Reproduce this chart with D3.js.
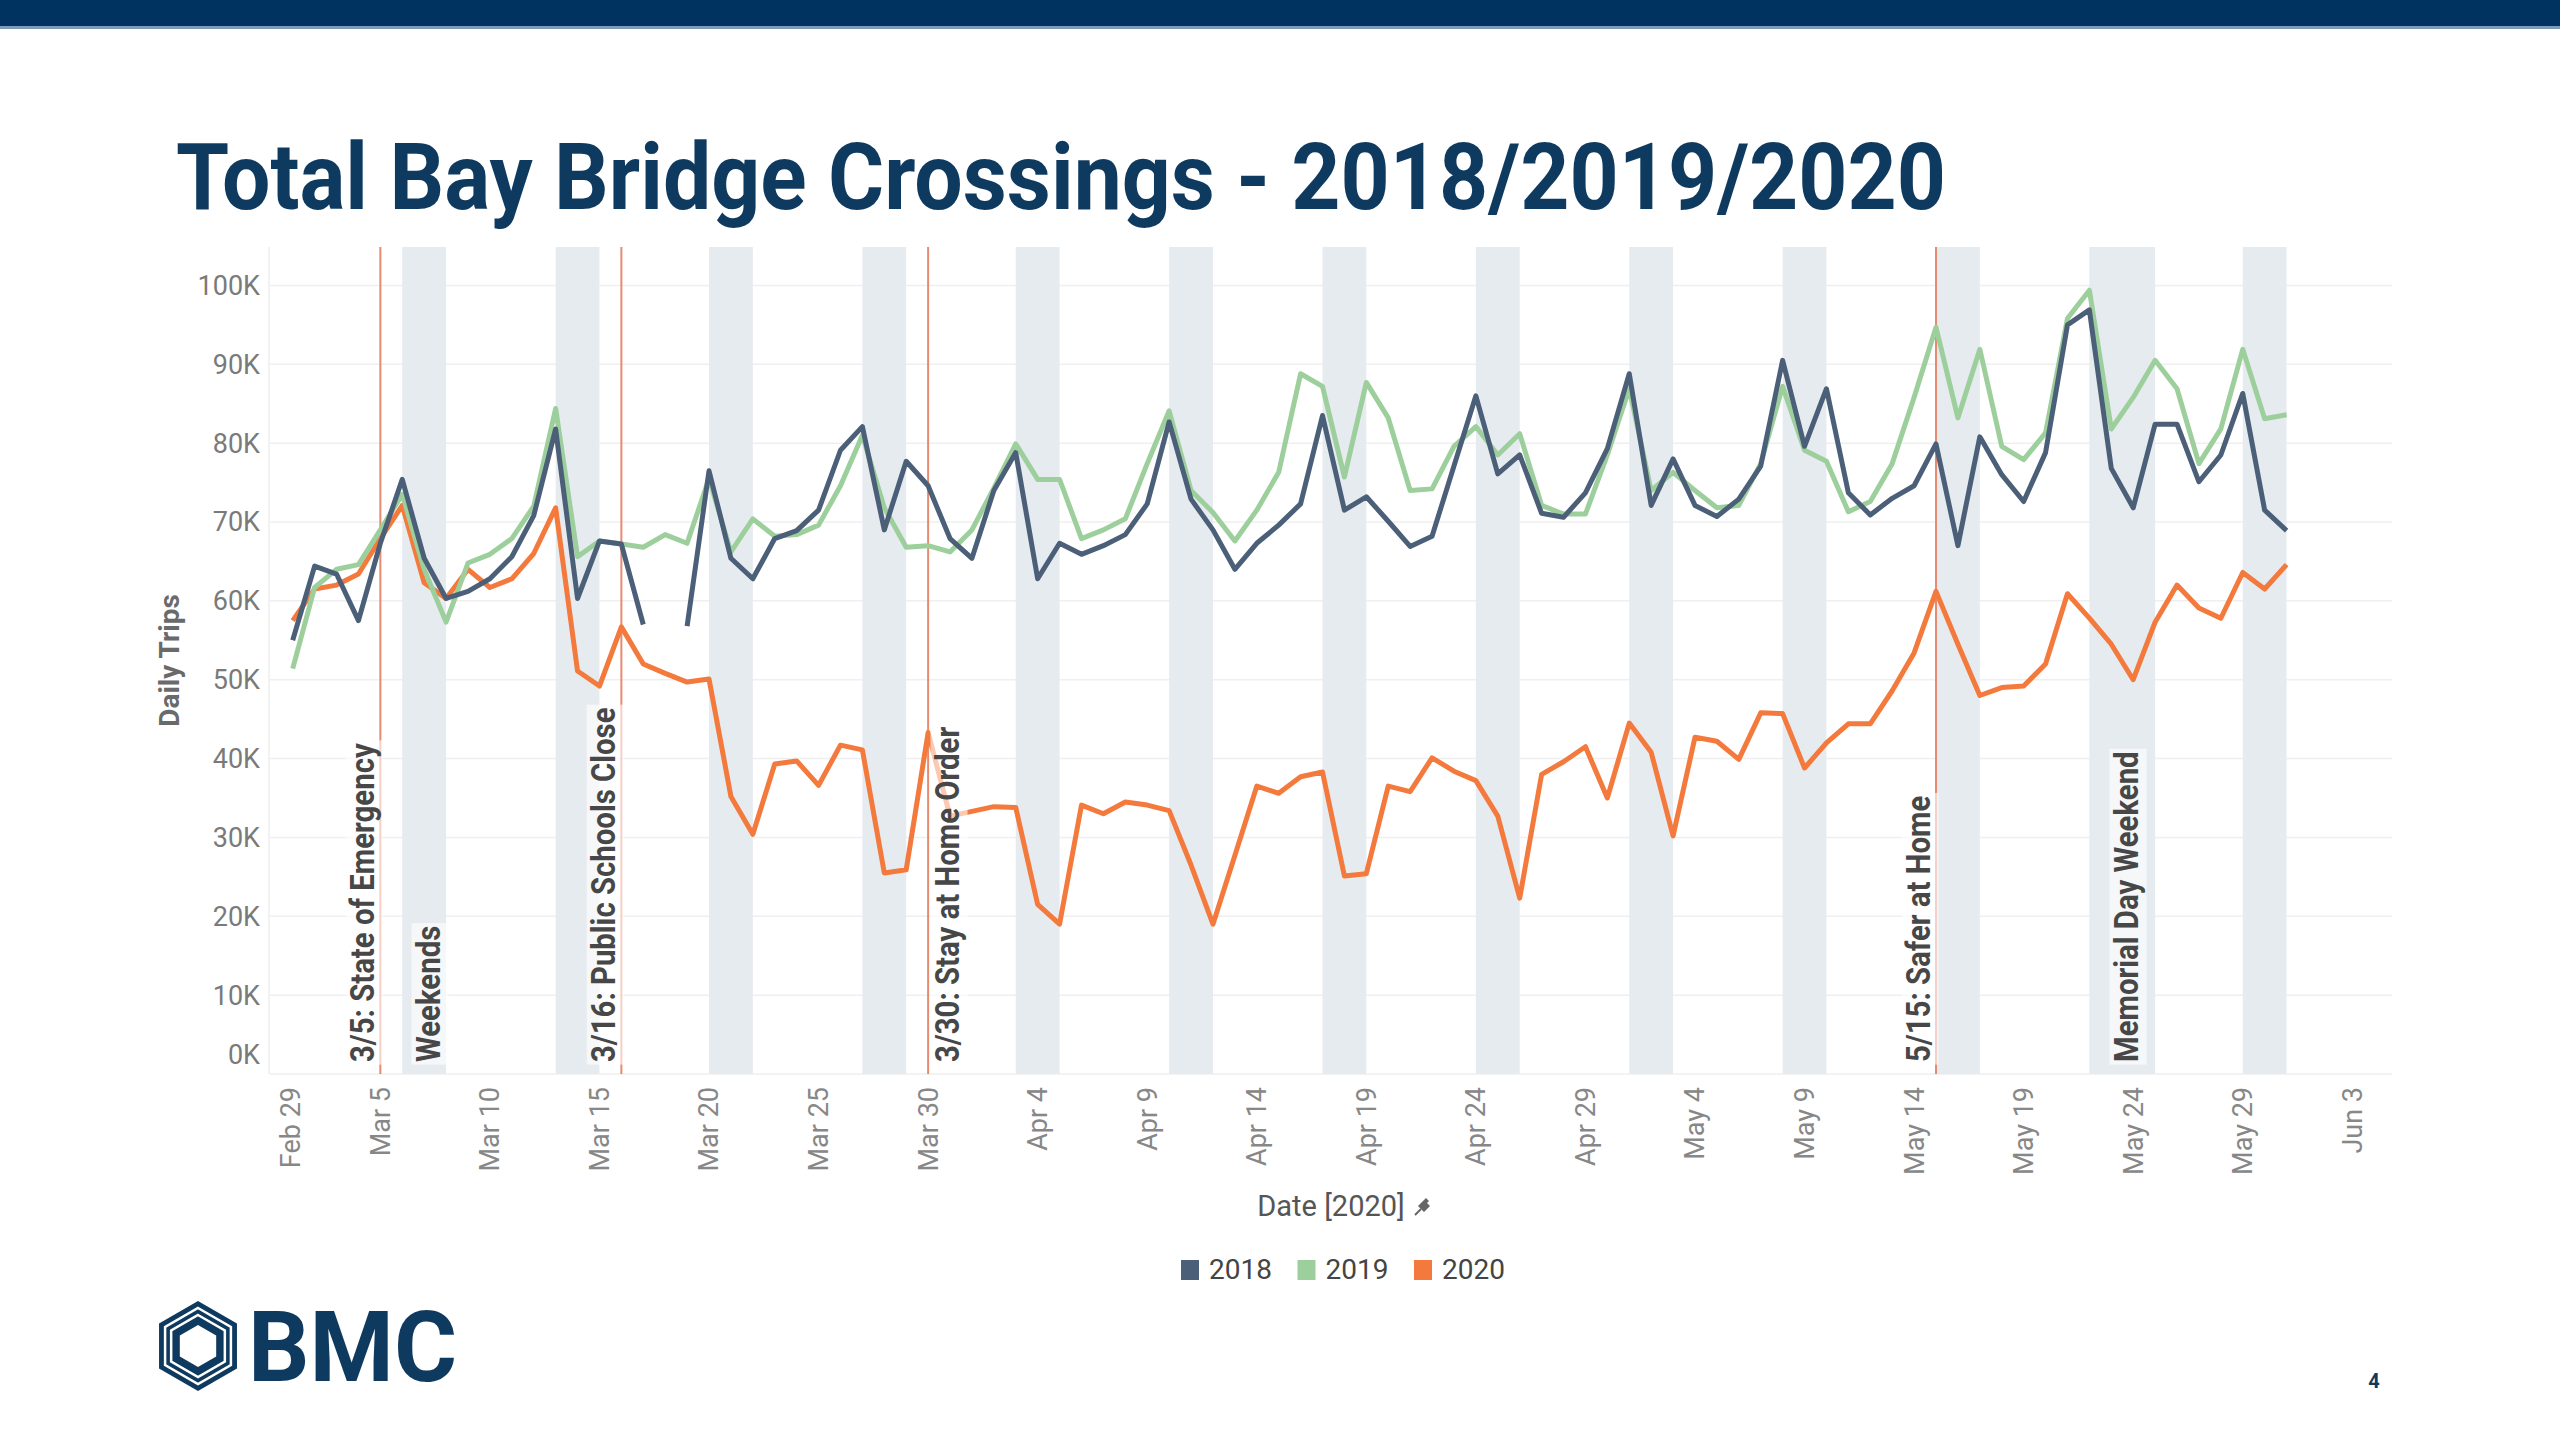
<!DOCTYPE html>
<html>
<head>
<meta charset="utf-8">
<script src="https://d3js.org/d3.v7.min.js"></script>
<style>
  body { margin: 0; background: #fff; }
  text { font-family: Roboto, "Liberation Sans", sans-serif; }
</style>
</head>
<body>
<div id="chart"></div>
<script>
// daily totals in thousands, Mar 1 .. May 31 (aligned to 2020 dates)
var trips2018 = [55.0,64.4,63.4,57.5,67.3,75.4,65.4,60.3,61.2,62.8,65.6,70.8,81.8,60.3,67.6,67.2,57.0,null,56.8,76.5,
  65.4,62.8,67.9,68.9,71.5,79.1,82.1,69.0,77.7,74.6,67.9,65.4,74.0,78.8,62.8,67.3,65.9,67.0,68.4,72.3,
  82.7,72.9,69.0,64.0,67.3,69.6,72.3,83.5,71.5,73.2,70.1,66.9,68.2,77.1,86.0,76.1,78.5,71.1,70.6,73.7,
  79.3,88.8,72.1,78.0,72.1,70.7,72.9,77.1,90.5,79.6,86.9,73.7,70.9,73.0,74.6,79.9,67.0,80.8,76.0,72.6,
  78.8,95.0,96.9,76.8,71.8,82.4,82.4,75.1,78.5,86.3,71.5,68.9];
var trips2019 = [51.4,61.7,64.0,64.6,69.0,73.5,64.0,57.3,64.8,65.9,67.9,72.0,84.4,65.6,67.6,67.2,66.8,68.4,67.3,75.5,
  66.2,70.4,68.2,68.4,69.6,74.6,81.0,71.8,66.8,67.0,66.2,69.0,74.3,79.9,75.4,75.4,67.9,69.0,70.4,77.4,
  84.1,74.0,71.2,67.6,71.5,76.3,88.8,87.2,75.7,87.7,83.2,74.0,74.2,79.6,82.1,78.5,81.2,72.1,71.0,71.0,
  78.5,86.9,74.0,76.3,74.0,71.8,72.1,77.4,87.2,79.1,77.7,71.3,72.6,77.4,85.8,94.7,83.2,91.9,79.6,77.9,
  81.3,95.8,99.4,81.8,85.8,90.5,86.9,77.4,81.8,91.9,83.1,83.6];
var trips2020 = [57.5,61.5,62.0,63.4,67.9,72.1,62.3,60.3,64.0,61.7,62.8,66.0,71.8,51.1,49.2,56.7,52.0,50.8,49.7,50.1,
  35.2,30.4,39.3,39.7,36.6,41.7,41.1,25.5,25.9,43.3,32.7,33.3,33.9,33.8,21.5,19.0,34.1,33.0,34.5,34.1,
  33.4,26.5,19.0,27.7,36.5,35.6,37.7,38.3,25.1,25.4,36.5,35.8,40.1,38.4,37.2,32.7,22.3,38.0,39.6,41.5,
  35.0,44.5,40.8,30.2,42.7,42.2,39.9,45.8,45.7,38.8,42.0,44.4,44.4,48.6,53.4,61.2,54.5,48.0,49.0,49.2,
  52.0,60.9,57.8,54.5,50.0,57.3,62.0,59.1,57.8,63.6,61.5,64.6];

var seriesNames = ["2018", "2019", "2020"];
var seriesColors = ["#4b6078", "#9dcf9c", "#f4793c"];

var xTickLabels = ["Feb 29","Mar 5","Mar 10","Mar 15","Mar 20","Mar 25","Mar 30","Apr 4","Apr 9","Apr 14",
  "Apr 19","Apr 24","Apr 29","May 4","May 9","May 14","May 19","May 24","May 29","Jun 3"];
var yTicks = [0,10000,20000,30000,40000,50000,60000,70000,80000,90000,100000];

var weekendBands = [["2020-03-06","2020-03-08"],["2020-03-13","2020-03-15"],["2020-03-20","2020-03-22"],
  ["2020-03-27","2020-03-29"],["2020-04-03","2020-04-05"],["2020-04-10","2020-04-12"],["2020-04-17","2020-04-19"],
  ["2020-04-24","2020-04-26"],["2020-05-01","2020-05-03"],["2020-05-08","2020-05-10"],["2020-05-15","2020-05-17"],
  ["2020-05-22","2020-05-25"],["2020-05-29","2020-05-31"]];
var eventDates = ["2020-03-05","2020-03-16","2020-03-30","2020-05-15"];
var annotations = [
  {at: "2020-03-05 00:00", text: "3/5: State of Emergency", side: "left"},
  {at: "2020-03-08 00:00", text: "Weekends", side: "left"},
  {at: "2020-03-16 00:00", text: "3/16: Public Schools Close", side: "left"},
  {at: "2020-03-30 00:00", text: "3/30: Stay at Home Order", side: "right"},
  {at: "2020-05-15 00:00", text: "5/15: Safer at Home", side: "left"},
  {at: "2020-05-24 12:00", text: "Memorial Day Weekend", side: "left"}
];

var W = 2560, H = 1440;
var plotL = 270, plotR = 2392, plotT = 247, plotB = 1074;
var navy = "#0f3a5f";

var parseDay = d3.timeParse("%Y-%m-%d");
var parseAt = d3.timeParse("%Y-%m-%d %H:%M");
var parseTick = d3.timeParse("%b %d %Y");
var dates = d3.timeDay.range(new Date(2020, 2, 1), new Date(2020, 5, 1));

var svg = d3.select("#chart").append("svg")
  .attr("width", W)
  .attr("height", H);

// header bar + title
svg.append("rect").attr("x", 0).attr("y", 0).attr("width", W).attr("height", 26).attr("fill", "#00335f");
svg.append("rect").attr("x", 0).attr("y", 26).attr("width", W).attr("height", 3).attr("fill", "#7d9cba");
svg.append("text")
  .attr("x", 176).attr("y", 209)
  .attr("font-size", 92).attr("font-weight", 700)
  .attr("fill", navy)
  .attr("textLength", 1770).attr("lengthAdjust", "spacingAndGlyphs")
  .text("Total Bay Bridge Crossings - 2018/2019/2020");

// Feb 29 .. Jun 3 spans 95 days
var x = d3.scaleTime()
  .domain([new Date(2020, 1, 29), new Date(2020, 5, 3)])
  .range([270.8, 2352.3]);
var y = d3.scaleLinear()
  .domain([0, 105000])
  .range([plotB, plotT - 1]);

// gridlines
svg.append("g").selectAll("line")
  .data(yTicks)
  .enter().append("line")
  .attr("x1", plotL).attr("x2", plotR)
  .attr("y1", function(d) { return y(d); })
  .attr("y2", function(d) { return y(d); })
  .attr("stroke", "#efefef").attr("stroke-width", 1.5);
svg.append("line")
  .attr("x1", plotL - 1).attr("x2", plotL - 1).attr("y1", plotT).attr("y2", plotB)
  .attr("stroke", "#eeeeee").attr("stroke-width", 1.5);

// weekend bands
svg.append("g").selectAll("rect")
  .data(weekendBands)
  .enter().append("rect")
  .attr("x", function(d) { return x(parseDay(d[0])); })
  .attr("width", function(d) { return x(parseDay(d[1])) - x(parseDay(d[0])); })
  .attr("y", plotT).attr("height", plotB - plotT)
  .attr("fill", "#e6ebf0");

// event lines
svg.append("g").selectAll("line")
  .data(eventDates)
  .enter().append("line")
  .attr("x1", function(d) { return x(parseDay(d)); })
  .attr("x2", function(d) { return x(parseDay(d)); })
  .attr("y1", plotT).attr("y2", plotB)
  .attr("stroke", "#e68b6f").attr("stroke-width", 2);

// series lines, 2018 on top
var series = [trips2020, trips2019, trips2018];
var order = [2, 1, 0];
var line = d3.line()
  .defined(function(d) { return d.v != null; })
  .x(function(d) { return x(d.date); })
  .y(function(d) { return y(d.v * 1000); });

svg.append("g").selectAll("path")
  .data(series)
  .enter().append("path")
  .attr("d", function(s) {
    return line(s.map(function(v, i) { return {date: dates[i], v: v}; }));
  })
  .attr("fill", "none")
  .attr("stroke", function(s, i) { return seriesColors[order[i]]; })
  .attr("stroke-width", 5)
  .attr("stroke-linejoin", "round");

// annotations
var ann = svg.append("g").selectAll("g")
  .data(annotations)
  .enter().append("g")
  .attr("transform", function(d) {
    var ax = x(parseAt(d.at)) + (d.side == "left" ? -6 : 31);
    return "translate(" + ax + "," + 1062 + ") rotate(-90) scale(0.89,1)";
  });
ann.append("text")
  .attr("font-family", "'Liberation Sans', Arial, sans-serif")
  .attr("font-size", 33).attr("font-weight", 700)
  .attr("fill", "#474747")
  .text(function(d) { return d.text; });
ann.each(function() {
  var g = d3.select(this);
  var b = g.select("text").node().getBBox();
  g.insert("rect", "text")
    .attr("x", b.x - 3).attr("y", b.y + 2)
    .attr("width", b.width + 6).attr("height", b.height - 2)
    .attr("fill", "#fff").attr("fill-opacity", 0.6);
});

// y axis labels
svg.append("g").selectAll("text")
  .data(yTicks)
  .enter().append("text")
  .attr("x", 260)
  .attr("y", function(d) { return Math.min(y(d), plotB - 19); })
  .attr("dy", "0.35em")
  .attr("text-anchor", "end")
  .attr("font-size", 27)
  .attr("fill", "#7a7a7a")
  .text(function(d) { return (d / 1000) + "K"; });

svg.append("text")
  .attr("transform", "translate(179," + ((plotT + plotB) / 2) + ") rotate(-90)")
  .attr("text-anchor", "middle")
  .attr("font-family", "'Liberation Sans', Arial, sans-serif")
  .attr("font-size", 28).attr("font-weight", 700)
  .attr("fill", "#6a6a6a")
  .text("Daily Trips");

// x axis labels
svg.append("g").selectAll("text")
  .data(xTickLabels)
  .enter().append("text")
  .attr("transform", function(d) {
    var lx = Math.max(x(parseTick(d + " 2020")), plotL + 21);
    return "translate(" + lx + ",1087) rotate(-90)";
  })
  .attr("dy", "0.35em")
  .attr("text-anchor", "end")
  .attr("font-size", 27)
  .attr("fill", "#878787")
  .text(function(d) { return d; });

svg.append("text")
  .attr("x", 1331).attr("y", 1216)
  .attr("text-anchor", "middle")
  .attr("font-size", 29)
  .attr("fill", "#555")
  .text("Date [2020]");
// little pin after axis title
svg.append("line")
  .attr("x1", 1415).attr("y1", 1215).attr("x2", 1421).attr("y2", 1209)
  .attr("stroke", "#666").attr("stroke-width", 2);
svg.append("path")
  .attr("d", "M1418,1206 L1426,1198 L1429,1201 L1427,1203 L1430,1206 L1424,1212 Z")
  .attr("fill", "#666");

// legend
var legend = svg.append("g").selectAll("g")
  .data(seriesNames)
  .enter().append("g")
  .attr("transform", function(d, i) { return "translate(" + (1181 + i * 116.5) + ",1260)"; });
legend.append("rect")
  .attr("width", 18).attr("height", 20)
  .attr("fill", function(d, i) { return seriesColors[i]; });
legend.append("text")
  .attr("x", 28).attr("y", 19)
  .attr("font-size", 28)
  .attr("fill", "#444")
  .text(function(d) { return d; });

// BMC logo
function hex(cx, cy, r) {
  return d3.line()(d3.range(6).map(function(i) {
    var a = Math.PI / 180 * (60 * i - 90);
    return [cx + r * Math.cos(a), cy + r * Math.sin(a)];
  })) + "Z";
}
var logo = svg.append("g");
logo.append("path").attr("d", hex(198, 1346, 45)).attr("fill", navy);
[38, 31].forEach(function(r) {
  logo.append("path").attr("d", hex(198, 1346, r))
    .attr("fill", "none").attr("stroke", "#fff").attr("stroke-width", 2.5);
});
logo.append("path").attr("d", hex(198, 1346, 21)).attr("fill", "#fff");
logo.append("text")
  .attr("x", 248).attr("y", 1381)
  .attr("font-size", 99).attr("font-weight", 700)
  .attr("fill", navy)
  .attr("textLength", 209).attr("lengthAdjust", "spacingAndGlyphs")
  .text("BMC");

svg.append("text")
  .attr("x", 2374).attr("y", 1388)
  .attr("text-anchor", "middle")
  .attr("font-size", 20).attr("font-weight", 700)
  .attr("fill", navy)
  .text("4");
</script>
</body>
</html>
